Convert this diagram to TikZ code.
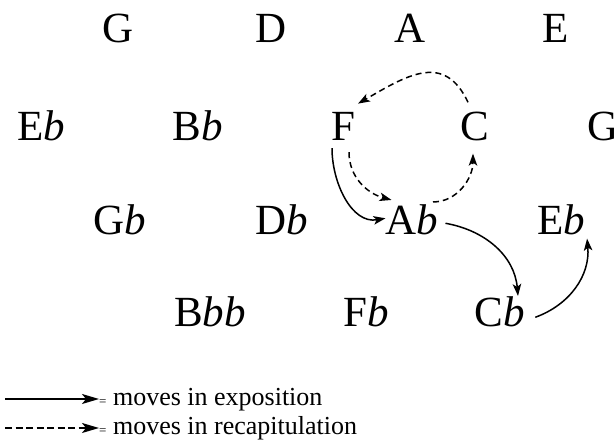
\documentclass[tikz,border=0pt]{standalone}
\usepackage{fontspec}
\setmainfont{Liberation Serif}
\usetikzlibrary{arrows.meta}
\tikzset{
  lbl/.style={font=\fontsize{43}{43}\selectfont, inner sep=4pt, anchor=base},
  exparrow/.style={line width=1.5pt, -{Stealth[length=12pt,width=8.5pt,inset=3pt]}},
  recarrow/.style={exparrow, dash pattern=on 6pt off 4pt},
  legtext/.style={font=\fontsize{26}{26}\selectfont, inner sep=0pt, anchor=base west},
  legarrow/.style={line width=1.6pt, -{Stealth[length=17pt,width=10pt,inset=4pt]}},
}
\newcommand{\fl}{\textit{b}}
\begin{document}
\begin{tikzpicture}[x=1pt,y=1pt]
\useasboundingbox (0,0) rectangle (614,-446);
% row 1
\node[lbl] (G1) at (118,-43) {G};
\node[lbl] (D1) at (271,-43) {D};
\node[lbl] (A1) at (410,-43) {A};
\node[lbl] (E1) at (556,-43) {E};
% row 2
\node[lbl] (Eb2) at (41,-141) {E\fl};
\node[lbl] (Bb2) at (198,-141) {B\fl};
\node[lbl] (F2) at (343,-141) {F};
\node[lbl] (C2) at (475,-141) {C};
\node[lbl] (G2) at (603,-141) {G};
% row 3
\node[lbl] (Gb3) at (120,-235) {G\fl};
\node[lbl] (Db3) at (282,-235) {D\fl};
\node[lbl] (Ab3) at (412,-235) {A\fl};
\node[lbl] (Eb3) at (561,-235) {E\fl};
% row 4
\node[lbl] (Bbb4) at (210,-327) {B\fl\fl};
\node[lbl] (Fb4) at (366,-327) {F\fl};
\node[lbl] (Cb4) at (500,-327) {C\fl};
% connectors
\draw[recarrow] ([shift={(-7,6)}]C2.north) to[out=115,in=30,looseness=1.3] ([shift={(15,5)}]F2.north);
\draw[exparrow] ([shift={(-11,-3)}]F2.south) to[out=-90,in=190] ([shift={(4,2)}]Ab3.west);
\draw[recarrow] ([shift={(6,-7)}]F2.south) to[out=-90,in=165] ([shift={(10,1)}]Ab3.north west);
\draw[recarrow] ([shift={(21,-1)}]Ab3.north) to[out=0,in=-90] ([shift={(-2,-8)}]C2.south);
\draw[exparrow] ([shift={(3,-3)}]Ab3.east) to[out=-10,in=95] ([shift={(18,-3)}]Cb4.north);
\draw[exparrow] ([shift={(6,-5)}]Cb4.east) to[out=20,in=-85] ([shift={(-2,1)}]Eb3.south east);
% legend
\node[legtext] (L1) at (99,-406) {{\fontsize{13}{13}\selectfont=} moves in exposition};
\node[legtext] (L2) at (99,-435) {{\fontsize{13}{13}\selectfont=} moves in recapitulation};
\coordinate (L1s) at (5,-399);
\coordinate (L2s) at (5,-428);
\draw[legarrow] (L1s) -- (L1s -| L1.west);
\draw[legarrow, dash pattern=on 7pt off 3.5pt] (L2s) -- (L2s -| L2.west);
\end{tikzpicture}
\end{document}
